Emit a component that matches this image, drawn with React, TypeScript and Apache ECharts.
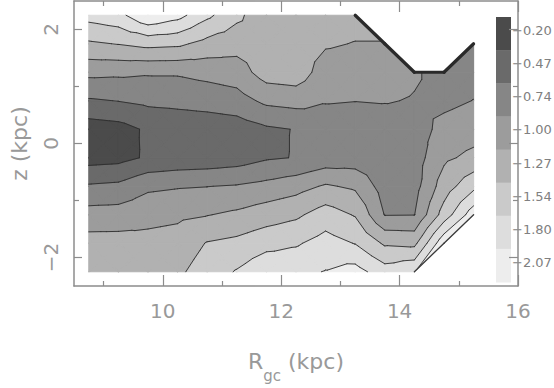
import React, { useEffect, useRef } from "react";
import * as echarts from "echarts";

// Grid nodes: galactocentric radius R (kpc) and height z (kpc)
const rNodes = [8.75, 9.25, 9.75, 10.25, 10.75, 11.25, 11.75, 12.25, 12.75, 13.25, 13.75, 14.25, 14.75, 15.25];
const zNodes = [-2.25, -1.75, -1.25, -0.75, -0.25, 0.25, 0.75, 1.25, 1.75, 2.25];

// Mapped (log) values, one row per z node (bottom to top), one entry per R node; null = no data
const rowZm225 = [-1.2, -1.2, -1.18, -1.22, -1.4, -1.56, -1.75, -1.74, -1.81, -1.9, -1.66, -1.78, null, null];
const rowZm175 = [-1.1, -1.1, -1.08, -1.11, -1.285, -1.34, -1.45, -1.51, -1.645, -1.53, -1.23, -1.2, -2.0, null];
const rowZm125 = [-0.85, -0.86, -0.92, -0.95, -0.99, -1.05, -1.14, -1.22, -1.4, -1.25, -0.73, -0.735, -1.39, -1.95];
const rowZm075 = [-0.5, -0.53, -0.69, -0.72, -0.735, -0.76, -0.82, -0.9, -1.03, -0.955, -0.62, -0.64, -1.13, -1.47];
const rowZm025 = [-0.09, -0.115, -0.235, -0.28, -0.3, -0.34, -0.44, -0.48, -0.58, -0.6, -0.55, -0.62, -0.95, -1.07];
const rowZp025 = [-0.06, -0.1, -0.24, -0.28, -0.3, -0.33, -0.43, -0.48, -0.58, -0.6, -0.55, -0.62, -0.82, -0.88];
const rowZp075 = [-0.44, -0.477, -0.53, -0.55, -0.58, -0.63, -0.8, -0.84, -0.76, -0.745, -0.76, -0.72, -0.68, -0.745];
const rowZp125 = [-0.81, -0.795, -0.77, -0.77, -0.82, -0.875, -1.12, -1.15, -0.87, -0.867, -0.87, -0.78, -0.62, -0.65];
const rowZp175 = [-1.23, -1.282, -1.35, -1.325, -1.18, -1.1, -1.15, -1.14, -1.03, -0.99, -0.99, null, null, -0.6];
const rowZp225 = [-1.64, -1.72, -2.03, -1.89, -1.6, -1.336, -1.08, -1.1, -1.12, -1.1, null, null, null, null];
const valueRows: (number | null)[][] = [
  rowZm225, rowZm175, rowZm125, rowZm075, rowZm025, rowZp025, rowZp075, rowZp125, rowZp175, rowZp225,
];

// Contour levels (ascending) and fill colours of the bands above each level
const contourLevels = [-2.07, -1.8, -1.54, -1.27, -1.0, -0.74, -0.47, -0.2];
const bandColors = ["#ededed", "#dddddd", "#cacaca", "#b1b1b1", "#9c9c9c", "#868686", "#6a6a6a", "#4b4b4b"];
const colorbarLabels = ["−0.20", "−0.47", "−0.74", "−1.00", "−1.27", "−1.54", "−1.80", "−2.07"];

const xMajorTicks = [10, 12, 14, 16];
const xMinorTicks = [9, 11, 13, 15];
const yMajorTicks = [-2, 0, 2];
const yMinorTicks = [-1, 1];

type V3 = [number, number, number];

function buildCells() {
  const cells: { center: [number, number]; tris: V3[][] }[] = [];
  for (let j = 0; j < zNodes.length - 1; j++) {
    for (let i = 0; i < rNodes.length - 1; i++) {
      const idx = [[i, j], [i + 1, j], [i + 1, j + 1], [i, j + 1]];
      const valid: V3[] = [];
      for (const [a, b] of idx) {
        const v = valueRows[b][a];
        if (v !== null && v !== undefined) valid.push([rNodes[a], zNodes[b], v]);
      }
      let tris: V3[][] = [];
      if (valid.length === 4) {
        const c: V3 = [
          (valid[0][0] + valid[1][0] + valid[2][0] + valid[3][0]) / 4,
          (valid[0][1] + valid[1][1] + valid[2][1] + valid[3][1]) / 4,
          (valid[0][2] + valid[1][2] + valid[2][2] + valid[3][2]) / 4,
        ];
        tris = [
          [valid[0], valid[1], c],
          [valid[1], valid[2], c],
          [valid[2], valid[3], c],
          [valid[3], valid[0], c],
        ];
      } else if (valid.length === 3) {
        tris = [valid];
      }
      if (tris.length) {
        cells.push({ center: [(rNodes[i] + rNodes[i + 1]) / 2, (zNodes[j] + zNodes[j + 1]) / 2], tris });
      }
    }
  }
  return cells;
}

function buildBoundary(cells: { tris: V3[][] }[]) {
  const rMin = rNodes[0], rMax = rNodes[rNodes.length - 1];
  const zMin = zNodes[0], zMax = zNodes[zNodes.length - 1];
  const map = new Map<string, { a: V3; b: V3; n: number }>();
  for (const cell of cells) {
    for (const t of cell.tris) {
      for (let k = 0; k < t.length; k++) {
        let a = t[k], b = t[(k + 1) % t.length];
        if (a[0] > b[0] || (a[0] === b[0] && a[1] > b[1])) { const tmp = a; a = b; b = tmp; }
        const key = `${a[0]},${a[1]}|${b[0]},${b[1]}`;
        const e = map.get(key);
        if (e) e.n++;
        else map.set(key, { a, b, n: 1 });
      }
    }
  }
  const out: { a: V3; b: V3 }[] = [];
  map.forEach((e) => {
    if (e.n !== 1) return;
    const { a, b } = e;
    const outer =
      (a[0] === b[0] && (a[0] === rMin || a[0] === rMax)) ||
      (a[1] === b[1] && (a[1] === zMin || a[1] === zMax));
    if (!outer) out.push({ a, b });
  });
  return out;
}

function clipPoly(poly: V3[], t: number, keepAbove: boolean): V3[] {
  const out: V3[] = [];
  const n = poly.length;
  for (let k = 0; k < n; k++) {
    const a = poly[k], b = poly[(k + 1) % n];
    const ia = keepAbove ? a[2] >= t : a[2] <= t;
    const ib = keepAbove ? b[2] >= t : b[2] <= t;
    if (ia) out.push(a);
    if (ia !== ib) {
      const f = (t - a[2]) / (b[2] - a[2]);
      out.push([a[0] + f * (b[0] - a[0]), a[1] + f * (b[1] - a[1]), t]);
    }
  }
  return out;
}

export default function App() {
  const ref = useRef<HTMLDivElement>(null);

  useEffect(() => {
    document.body.style.margin = "0";
    if (!ref.current) return;
    const chart = echarts.init(ref.current, undefined, { renderer: "svg" });

    const cells = buildCells();
    const boundary = buildBoundary(cells);

    const axisColor = "#8c8c8c";
    const textColor = "#999999";
    const fontFamily = '"DejaVu Sans", sans-serif';
    const tickStyle = { color: axisColor, width: 1.2 };
    const lineStyle = { color: axisColor, width: 1.5 };

    const renderBands = (params: any, api: any) => {
      const cell = cells[params.dataIndex];
      const children: any[] = [];
      for (const tri of cell.tris) {
        for (let b = 0; b < contourLevels.length; b++) {
          let poly = clipPoly(tri, contourLevels[b], true);
          if (poly.length < 3) continue;
          if (b + 1 < contourLevels.length) poly = clipPoly(poly, contourLevels[b + 1], false);
          if (poly.length < 3) continue;
          children.push({
            type: "polygon",
            shape: { points: poly.map((p) => api.coord([p[0], p[1]])) },
            style: { fill: bandColors[b], stroke: bandColors[b], lineWidth: 1.1, lineJoin: "round" },
          });
        }
      }
      return { type: "group", children };
    };

    const renderContours = (params: any, api: any) => {
      const cell = cells[params.dataIndex];
      const children: any[] = [];
      for (const tri of cell.tris) {
        for (const L of contourLevels) {
          const pts: number[][] = [];
          for (let k = 0; k < 3; k++) {
            const a = tri[k], b = tri[(k + 1) % 3];
            if ((a[2] - L) * (b[2] - L) < 0) {
              const f = (L - a[2]) / (b[2] - a[2]);
              pts.push(api.coord([a[0] + f * (b[0] - a[0]), a[1] + f * (b[1] - a[1])]));
            }
          }
          if (pts.length === 2) {
            children.push({
              type: "line",
              shape: { x1: pts[0][0], y1: pts[0][1], x2: pts[1][0], y2: pts[1][1] },
              style: { stroke: "#2e2e2e", lineWidth: 0.9, lineCap: "round" },
            });
          }
        }
      }
      return { type: "group", children };
    };

    const renderEdge = (params: any, api: any) => {
      const e = boundary[params.dataIndex];
      const p1 = api.coord([e.a[0], e.a[1]]);
      const p2 = api.coord([e.b[0], e.b[1]]);
      const upper = e.a[1] + e.b[1] > 0;
      return {
        type: "line",
        shape: { x1: p1[0], y1: p1[1], x2: p2[0], y2: p2[1] },
        style: { stroke: upper ? "#2a2a2a" : "#3a3a3a", lineWidth: upper ? 3.2 : 1.3, lineCap: "round" },
      };
    };

    // colour bar
    const cbTop = 17, cbBottom = 282, cbLeft = 496, cbWidth = 15;
    const nb = bandColors.length;
    const bh = (cbBottom - cbTop) / nb;
    const graphic: any[] = [];
    for (let k = 0; k < nb; k++) {
      graphic.push({
        type: "rect",
        shape: { x: cbLeft, y: cbTop + k * bh, width: cbWidth, height: bh + 0.5 },
        style: { fill: bandColors[nb - 1 - k] },
        silent: true,
      });
      graphic.push({
        type: "text",
        x: 512,
        y: cbTop + k * bh + bh / 2 - 3,
        style: {
          text: colorbarLabels[k],
          fill: "#808080",
          fontSize: 13,
          fontFamily,
          verticalAlign: "middle",
          align: "left",
        },
        silent: true,
      });
    }

    const xBase = { type: "value", min: 8.5, max: 16, splitLine: { show: false } };
    const yBase = { type: "value", min: -2.5, max: 2.5, splitLine: { show: false } };
    const minus = (v: number) => (v < 0 ? "−" + Math.abs(v) : String(v));

    chart.setOption({
      animation: false,
      grid: { left: 72, right: 36, top: 1, bottom: 90, containLabel: false },
      xAxis: [
        {
          ...xBase,
          position: "bottom",
          axisLine: { show: true, onZero: false, lineStyle },
          axisTick: { show: true, inside: true, length: 11, customValues: xMajorTicks, lineStyle: tickStyle },
          axisLabel: { show: true, customValues: xMajorTicks, margin: 15, fontSize: 20, color: textColor, fontFamily },
          name: "{a|R}{b|gc}{a| (kpc)}",
          nameLocation: "middle",
          nameGap: 53,
          nameTextStyle: {
            color: textColor,
            fontFamily,
            fontSize: 22,
            rich: {
              a: { fontSize: 22, color: textColor, fontFamily, lineHeight: 22 },
              b: { fontSize: 15, color: textColor, fontFamily, lineHeight: 44, verticalAlign: "bottom" },
            },
          },
        },
        {
          ...xBase,
          position: "bottom",
          axisLine: { show: false, onZero: false },
          axisTick: { show: true, inside: true, length: 5, customValues: xMinorTicks, lineStyle: tickStyle },
          axisLabel: { show: false },
        },
        {
          ...xBase,
          position: "top",
          axisLine: { show: true, onZero: false, lineStyle },
          axisTick: { show: true, inside: true, length: 11, customValues: xMajorTicks, lineStyle: tickStyle },
          axisLabel: { show: false },
        },
        {
          ...xBase,
          position: "top",
          axisLine: { show: false, onZero: false },
          axisTick: { show: true, inside: true, length: 5, customValues: xMinorTicks, lineStyle: tickStyle },
          axisLabel: { show: false },
        },
      ],
      yAxis: [
        {
          ...yBase,
          position: "left",
          axisLine: { show: true, onZero: false, lineStyle },
          axisTick: { show: true, inside: true, length: 8, customValues: yMajorTicks, lineStyle: tickStyle },
          axisLabel: {
            show: true,
            customValues: yMajorTicks,
            rotate: 90,
            margin: 13,
            fontSize: 20,
            color: textColor,
            fontFamily,
            formatter: (v: number) => minus(v),
          },
          name: "z (kpc)",
          nameLocation: "middle",
          nameGap: 44,
          nameTextStyle: { color: textColor, fontFamily, fontSize: 22 },
        },
        {
          ...yBase,
          position: "left",
          axisLine: { show: false, onZero: false },
          axisTick: { show: true, inside: true, length: 5, customValues: yMinorTicks, lineStyle: tickStyle },
          axisLabel: { show: false },
        },
        {
          ...yBase,
          position: "right",
          axisLine: { show: true, onZero: false, lineStyle },
          axisTick: { show: true, inside: true, length: 9, customValues: yMajorTicks, lineStyle: tickStyle },
          axisLabel: { show: false },
        },
        {
          ...yBase,
          position: "right",
          axisLine: { show: false, onZero: false },
          axisTick: { show: true, inside: true, length: 5, customValues: yMinorTicks, lineStyle: tickStyle },
          axisLabel: { show: false },
        },
      ],
      graphic,
      series: [
        {
          type: "custom",
          name: "bands",
          coordinateSystem: "cartesian2d",
          xAxisIndex: 0,
          yAxisIndex: 0,
          renderItem: renderBands,
          data: cells.map((c) => c.center),
          silent: true,
          clip: true,
          z: 1,
        },
        {
          type: "custom",
          name: "contours",
          coordinateSystem: "cartesian2d",
          xAxisIndex: 0,
          yAxisIndex: 0,
          renderItem: renderContours,
          data: cells.map((c) => c.center),
          silent: true,
          clip: true,
          z: 2,
        },
        {
          type: "custom",
          name: "edge",
          coordinateSystem: "cartesian2d",
          xAxisIndex: 0,
          yAxisIndex: 0,
          renderItem: renderEdge,
          data: boundary.map((e) => [(e.a[0] + e.b[0]) / 2, (e.a[1] + e.b[1]) / 2]),
          silent: true,
          clip: true,
          z: 3,
        },
      ],
    });

    return () => {
      chart.dispose();
    };
  }, []);

  return <div ref={ref} style={{ width: 554, height: 388 }} />;
}
